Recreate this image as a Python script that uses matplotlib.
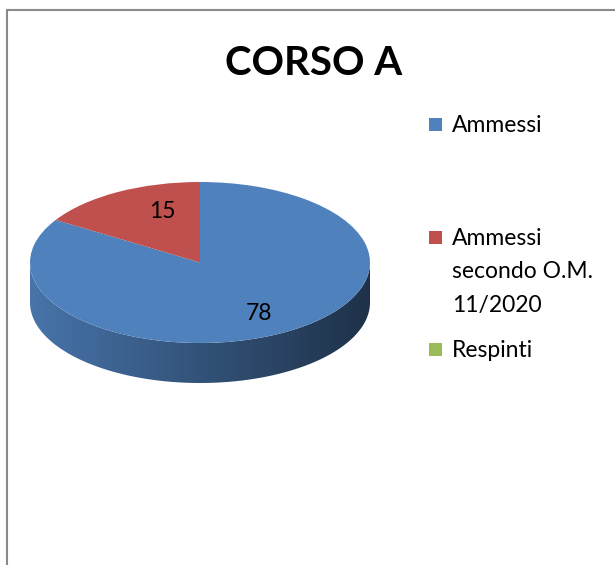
import textwrap
import numpy as np
import matplotlib.pyplot as plt
from matplotlib.patches import Polygon, Rectangle
from matplotlib.lines import Line2D
from matplotlib.colors import to_rgb

# --- dati ---
categorie = ["Ammessi", "Ammessi secondo O.M. 11/2020", "Respinti"]
valori = [78, 15, 0]
colori = ["#4f81bd", "#c0504d", "#9bbb59"]
titolo = "CORSO A"

W, H = 615, 565
plt.rcParams['font.family'] = ['Lato', 'DejaVu Sans']

fig = plt.figure(figsize=(W / 100, H / 100), dpi=100)

def fx(px):
    return px / W

def fy(py):
    return 1 - py / H

# geometria della torta (pixel)
cx, cy = 200, 262.5
rx, ry = 170, 80.5
spessore = 40 / ry          # in unita' y
xl, yl = (-1.1, 1.1), (-1.7, 1.2)

ax_w = (xl[1] - xl[0]) * rx
ax_h = (yl[1] - yl[0]) * ry
ax_left = cx + xl[0] * rx
ax_top = cy - yl[1] * ry
ax = fig.add_axes([fx(ax_left), fy(ax_top + ax_h), ax_w / W, ax_h / H])

def etichetta(pct):
    v = int(round(pct * sum(valori) / 100))
    return str(v) if v > 0 else ""

wedges, testi, autotesti = ax.pie(
    valori, colors=colori, startangle=90, counterclock=False,
    autopct=etichetta, pctdistance=0.72, radius=1,
    wedgeprops=dict(linewidth=0, zorder=3),
    textprops=dict(fontsize=16.5, color="black"))
for t in autotesti:
    t.set_zorder(5)
px_, py_ = autotesti[1].get_position()
autotesti[1].set_position((px_ + 0.13, py_))

# lato 3D (parte frontale visibile) con sfumatura
xs = np.linspace(-1, 1, 400)
fattore = 0.9 - 0.26 * (xs + 1)
for w, c in zip(wedges, colori):
    base = np.array(to_rgb(c))
    for k in (-360, 0, 360):
        a0 = max(w.theta1, 180 + k)
        a1 = min(w.theta2, 360 + k)
        if a1 <= a0:
            continue
        ts = np.radians(np.linspace(a0, a1, 200))
        top = np.column_stack([np.cos(ts), np.sin(ts)])
        bot = np.column_stack([np.cos(ts[::-1]), np.sin(ts[::-1]) - spessore])
        poly = Polygon(np.vstack([top, bot]), closed=True, facecolor='none',
                       edgecolor='none', transform=ax.transData)
        ax.add_patch(poly)
        grad = np.clip(base[None, None, :] * fattore[None, :, None], 0, 1)
        im = ax.imshow(grad, extent=(-1, 1, -1 - spessore, 0.05),
                       aspect='auto', interpolation='bilinear', zorder=2)
        im.set_clip_path(poly)

ax.set_aspect('auto')
ax.set_xlim(*xl)
ax.set_ylim(*yl)
ax.axis('off')

# titolo
fig.text(fx(314), fy(75), titolo, ha='center', va='baseline',
         fontsize=29, fontweight='bold')

# legenda
leg_x = 452
leg_base = [132, 245, 357]
interlinea = 33.5
for nome, c, yb in zip(categorie, colori, leg_base):
    fig.patches.append(Rectangle((fx(428.5), fy(yb - 1)), 13 / W, 13 / H,
                                 transform=fig.transFigure,
                                 facecolor=c, edgecolor='none'))
    for i, riga in enumerate(textwrap.fill(nome, 12).split("\n")):
        fig.text(fx(leg_x), fy(yb + i * interlinea), riga,
                 ha='left', va='baseline', fontsize=16.5)

# cornice
grigio = "#8a8a8a"
fig.add_artist(Line2D([fx(7), fx(7)], [fy(10), 0], color=grigio, lw=1.5,
                      transform=fig.transFigure))
fig.add_artist(Line2D([fx(7), 1], [fy(10), fy(10)], color=grigio, lw=1.5,
                      transform=fig.transFigure))

fig.savefig("out.png", dpi=100)
